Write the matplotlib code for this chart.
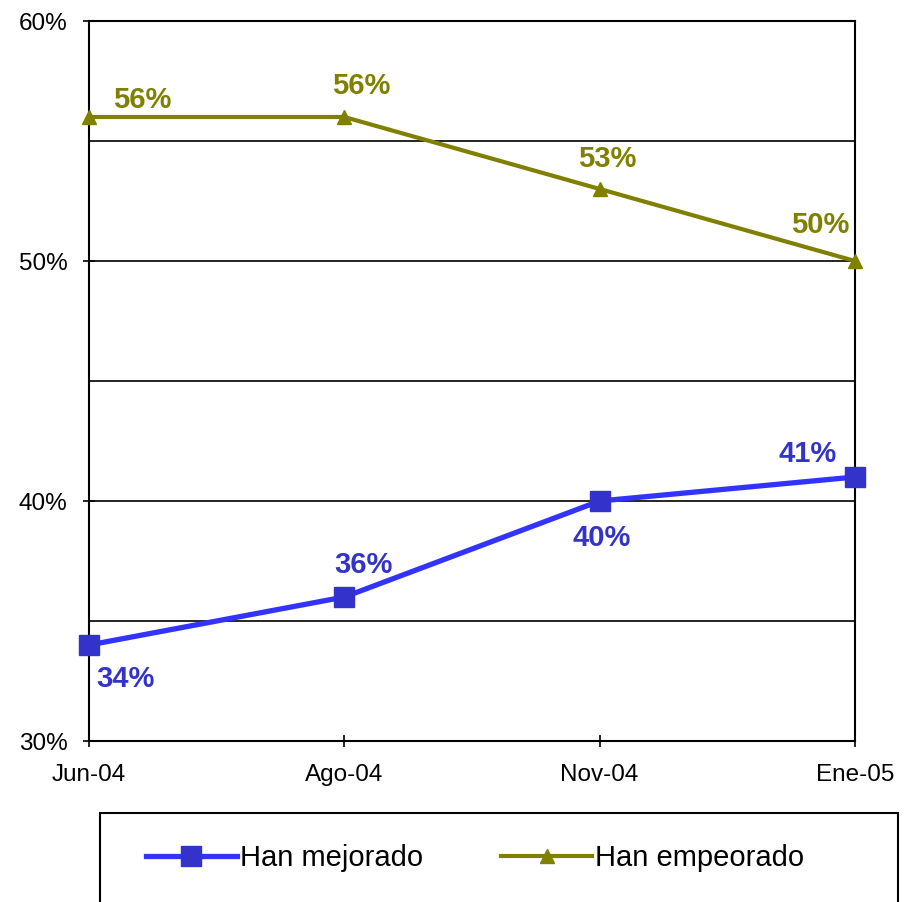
import matplotlib
matplotlib.use('Agg')
import matplotlib.pyplot as plt
from matplotlib.patches import Rectangle

plt.rcParams['font.family'] = ['Liberation Sans', 'DejaVu Sans']

# data
periodos = ['Jun-04', 'Ago-04', 'Nov-04', 'Ene-05']
mejorado = [34, 36, 40, 41]
empeorado = [56, 56, 53, 50]

azul = '#3333CC'
azul_linea = '#3333FF'
oliva = '#808000'

fig = plt.figure(figsize=(9.16, 9.02), dpi=100)
ax = fig.add_axes([89 / 916, 161 / 902, 766 / 916, 720 / 902])

x = list(range(len(periodos)))
ax.plot(x, mejorado, color=azul_linea, linewidth=3.8, marker='s', markersize=15,
        markerfacecolor=azul, markeredgecolor=azul, label='Han mejorado',
        clip_on=False, zorder=4)
ax.plot(x, empeorado, color=oliva, linewidth=3.0, marker='^', markersize=10,
        markerfacecolor=oliva, markeredgecolor=oliva, label='Han empeorado',
        clip_on=False, zorder=4)

# data labels (offsets in pixels)
off_mej = [(36, -34), (19, 32), (2, -37), (-47, 23)]
off_emp = [(53, 17), (17, 31), (8, 30), (-35, 36)]
for i, v in enumerate(mejorado):
    ax.annotate('{}%'.format(v), (x[i], v), xytext=off_mej[i], textcoords='offset pixels',
                ha='center', va='center', fontsize=21, fontweight='bold', color=azul)
for i, v in enumerate(empeorado):
    ax.annotate('{}%'.format(v), (x[i], v), xytext=off_emp[i], textcoords='offset pixels',
                ha='center', va='center', fontsize=21, fontweight='bold', color=oliva)

# limits and ticks
ax.set_xlim(0, 3)
ax.set_ylim(30, 60)
ax.set_xticks(x)
ax.set_xticklabels(periodos)
ax.set_yticks([30, 40, 50, 60])
ax.set_yticklabels(['30%', '40%', '50%', '60%'])
ax.set_yticks([35, 45, 55], minor=True)
ax.tick_params(axis='both', which='major', direction='inout', length=9, width=1.2,
               labelsize=17.5)
ax.tick_params(axis='y', which='major', pad=11)
ax.tick_params(axis='x', which='major', pad=12)
ax.tick_params(axis='y', which='minor', length=0)
ax.grid(axis='y', which='both', color='black', linewidth=1.2)
ax.set_axisbelow(True)
for s in ax.spines.values():
    s.set_linewidth(1.5)

# legend box at bottom
fig.patches.append(Rectangle((100 / 916, -0.05), 798 / 916, (902 - 813) / 902 + 0.05,
                             transform=fig.transFigure, fill=False, edgecolor='black',
                             linewidth=1.5))
fig.legend(loc='center', bbox_to_anchor=(0.5 + 17 / 916, 44 / 902), ncol=2, frameon=False,
           fontsize=21, handlelength=3.1, handletextpad=0.1, columnspacing=2.7)

fig.savefig('out.png', dpi=100)
